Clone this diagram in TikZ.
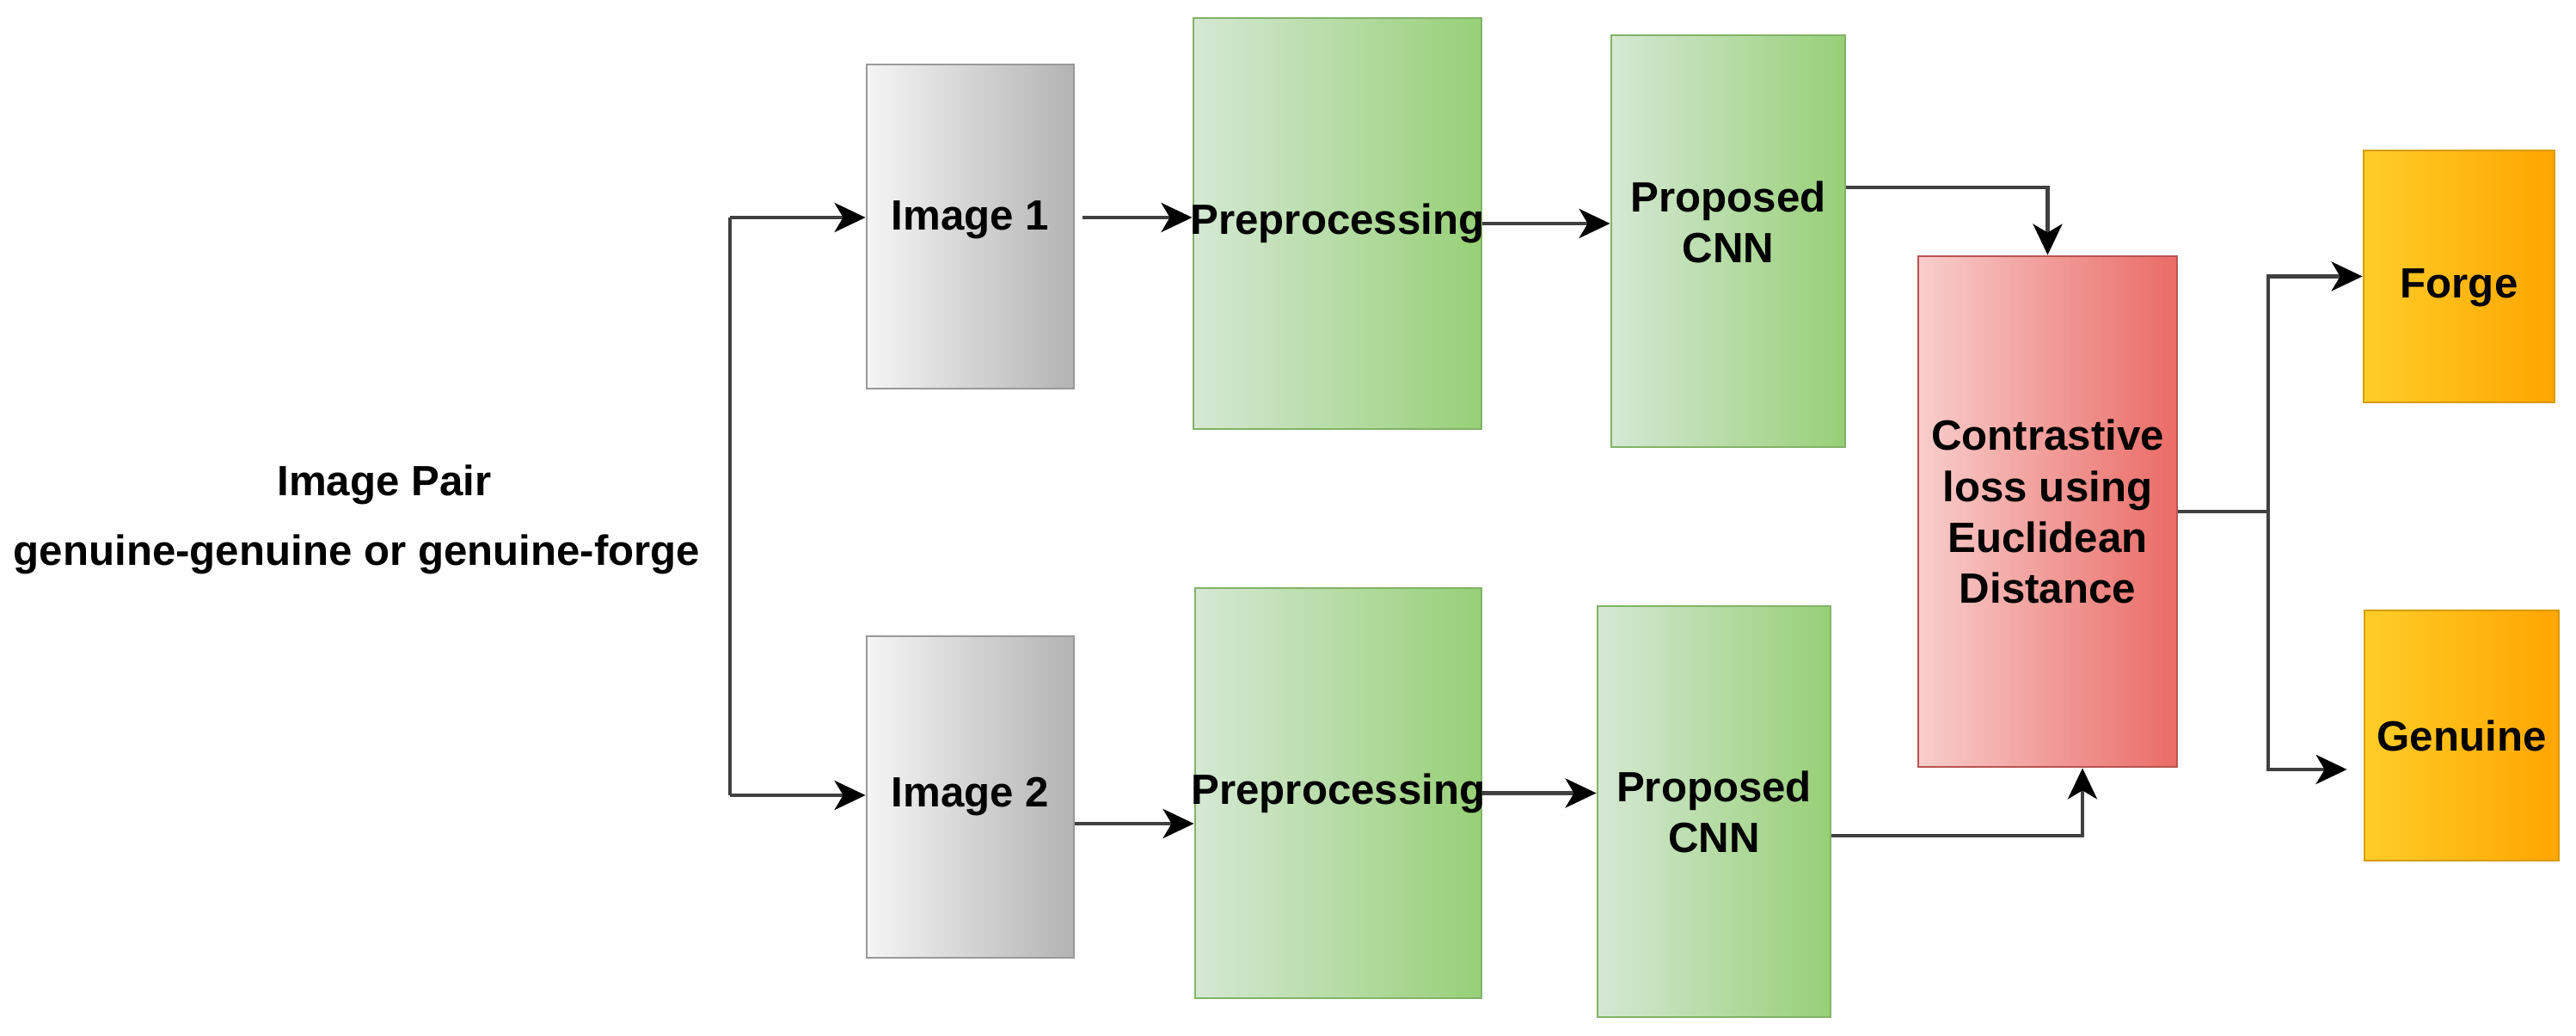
\documentclass[tikz,border=0pt]{standalone}
\usepackage{fontspec}
\setmainfont{Liberation Sans}
\usepackage{tikz}
\usetikzlibrary{arrows.meta}
\definecolor{imgL}{HTML}{F5F5F5}
\definecolor{imgR}{HTML}{B3B3B3}
\definecolor{imgD}{HTML}{999999}
\definecolor{grnL}{HTML}{D5E8D4}
\definecolor{grnR}{HTML}{97D077}
\definecolor{grnD}{HTML}{82B366}
\definecolor{redL}{HTML}{F8CECC}
\definecolor{redR}{HTML}{EA6B66}
\definecolor{redD}{HTML}{B85450}
\definecolor{orgL}{HTML}{FFCD28}
\definecolor{orgR}{HTML}{FFA500}
\definecolor{orgD}{HTML}{D79B00}

\begin{document}
\begin{tikzpicture}[font=\fontsize{14}{16.8}\selectfont\bfseries,
  box/.style={draw, line width=0.8pt, align=center, inner sep=0pt},
  imgbox/.style={box, draw=imgD, left color=imgL, right color=imgR},
  grnbox/.style={box, draw=grnD, left color=grnL, right color=grnR},
  redbox/.style={box, draw=redD, left color=redL, right color=redR},
  orgbox/.style={box, draw=orgD, left color=orgL, right color=orgR},
  wire/.style={line width=1.3pt, draw=black!75},
  arr/.style={wire, -{Stealth[length=0.36cm, width=0.34cm, inset=0.1cm, color=black]}}]
\useasboundingbox (0,0) rectangle (29.96,12.05);

\node[anchor=base] (pair) at (4.47,6.28) {Image Pair};
\node[anchor=base] (kind) at (4.15,5.47) {genuine-genuine or genuine-forge};

\node[imgbox, minimum width=2.41cm, minimum height=3.77cm, text depth=0.26cm] (img1) at (11.285,9.415) {Image 1};
\node[imgbox, minimum width=2.41cm, minimum height=3.74cm] (img2) at (11.285,2.78) {Image 2};
\node[grnbox, minimum width=3.35cm, minimum height=4.78cm] (pre1) at (15.555,9.45) {\makebox[0pt]{Preprocessing}};
\node[grnbox, minimum width=3.33cm, minimum height=4.77cm] (pre2) at (15.565,2.825) {\makebox[0pt]{Preprocessing}};
\node[grnbox, minimum width=2.72cm, minimum height=4.79cm, text depth=0.44cm] (cnn1) at (20.10,9.245) {Proposed\\CNN};
\node[grnbox, minimum width=2.71cm, minimum height=4.78cm] (cnn2) at (19.935,2.61) {Proposed\\CNN};
\node[redbox, minimum width=3.01cm, minimum height=5.94cm] (loss) at (23.815,6.10) {Contrastive\\loss using\\Euclidean\\Distance};
\node[orgbox, minimum width=2.22cm, minimum height=2.93cm, text height=0.60cm] (forge) at (28.60,8.835) {Forge};
\node[orgbox, minimum width=2.26cm, minimum height=2.91cm] (genuine) at (28.63,3.495) {Genuine};

\coordinate (split1) at (8.49,9.52);
\coordinate (split2) at (8.49,2.80);
\draw[wire] (split1) -- (split2);
\draw[arr] (split1) -- (split1 -| img1.west);
\draw[arr] (split2) -- (split2 -| img2.west);
\draw[arr] ([xshift=0.09cm]img1.east |- split1) -- (split1 -| pre1.west);
\draw[arr] ([yshift=-0.31cm]img2.east) -- ([yshift=-0.31cm]img2.east -| pre2.west);
\draw[arr] (pre1.east) -- (pre1.east -| cnn1.west);
\draw[arr] (pre2.east) -- (pre2.east -| cnn2.west);
\draw[arr] ([yshift=0.625cm]cnn1.east) -| (loss.north);
\draw[arr] ([yshift=-0.28cm]cnn2.east) -| ([xshift=0.405cm]loss.south);
\coordinate (branch) at (26.38,6.10);
\draw[wire] (loss.east) -- (branch);
\draw[arr] (branch) |- (forge.west);
\draw[arr] (branch) |- ([xshift=-0.19cm,yshift=-0.395cm]genuine.west);
\end{tikzpicture}
\end{document}
